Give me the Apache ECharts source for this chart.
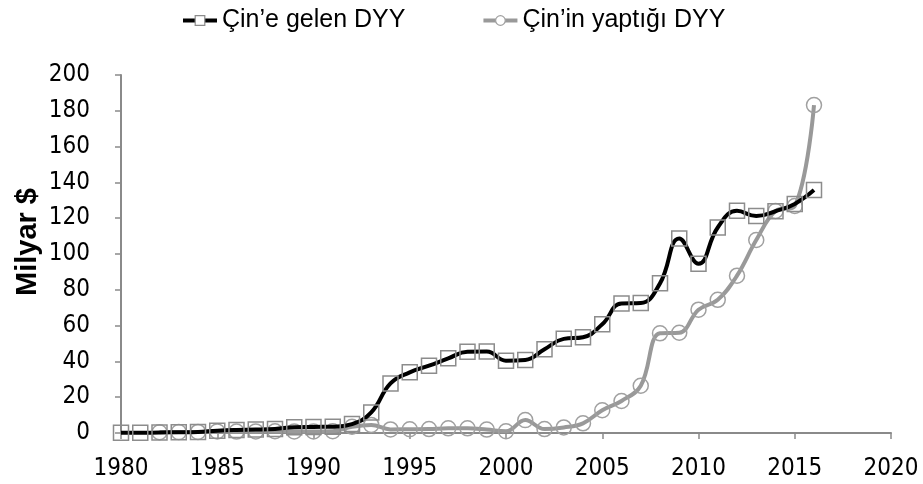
<!DOCTYPE html>
<html><head><meta charset="utf-8">
<script src="https://cdn.jsdelivr.net/npm/echarts@6/dist/echarts.min.js"></script>
<style>html,body{margin:0;padding:0;background:#fff}#c{width:923px;height:484px}</style>
</head><body><div id="c"></div>
<script>
const years = [1980,1981,1982,1983,1984,1985,1986,1987,1988,1989,1990,1991,1992,1993,1994,1995,1996,1997,1998,1999,2000,2001,2002,2003,2004,2005,2006,2007,2008,2009,2010,2011,2012,2013,2014,2015,2016];
const inflow = [0.1,0.1,0.3,0.4,0.6,1.3,1.7,1.9,2.3,3.2,3.4,3.5,5.0,11.5,27.7,33.9,37.6,41.7,45.4,45.5,40.4,40.8,46.8,52.6,53.5,60.7,72.4,72.6,83.6,108.6,94.5,114.8,124.1,121.2,123.9,128.0,135.7];
const outflow = [null,null,0.4,0.5,0.6,0.9,0.8,0.9,1.0,0.9,0.9,1.0,3.5,4.5,2.0,2.1,2.2,2.6,2.6,1.9,1.0,7.2,2.2,3.1,5.4,12.7,17.9,26.4,55.7,56.0,68.9,74.4,87.9,107.8,124.0,126.8,183.2];
const xTicks = [1980,1985,1990,1995,2000,2005,2010,2015,2020];
const seriesNames = ['Çin’e gelen DYY','Çin’in yaptığı DYY'];
const yTitle = 'Milyar $';

const numFont = 'DejaVu Sans Condensed';
const chart = echarts.init(document.getElementById('c'), null, {renderer:'canvas'});
chart.setOption({
  animation:false,
  backgroundColor:'#fff',
  legend:{
    top:3, left:176, itemGap:76, itemWidth:34, itemHeight:12,
    textStyle:{fontFamily:'Liberation Sans', fontSize:25, color:'#000'},
    data:[
      {name:seriesNames[0], lineStyle:{width:4, color:'#000'}, itemStyle:{color:'#fff', borderColor:'#8c8c8c', borderWidth:1.2}},
      {name:seriesNames[1], lineStyle:{width:4, color:'#999'}, itemStyle:{color:'#fff', borderColor:'#a0a0a0', borderWidth:1.2}}
    ]
  },
  graphic:[{
    type:'text', x:28, y:242, rotation:Math.PI/2,
    style:{text:yTitle, fontFamily:'Liberation Sans', fontWeight:'bold', fontSize:29, fill:'#000', align:'center', verticalAlign:'middle'}
  }],
  grid:{left:121, right:32, top:75, bottom:51, containLabel:false},
  xAxis:{
    type:'value', min:1980, max:2020, interval:5,
    axisLine:{show:true, lineStyle:{color:'#8a8a8a', width:2}},
    axisTick:{show:true, inside:false, length:6, lineStyle:{color:'#8a8a8a', width:1.5}},
    splitLine:{show:false},
    axisLabel:{fontFamily:numFont, fontSize:24, color:'#000', margin:24,
      formatter:v=> xTicks.includes(v) ? String(v) : ''}
  },
  yAxis:{
    type:'value', min:0, max:200, interval:20,
    axisLine:{show:true, lineStyle:{color:'#8a8a8a', width:2}},
    axisTick:{show:true, inside:false, length:6, lineStyle:{color:'#8a8a8a', width:1.5}},
    splitLine:{show:false},
    axisLabel:{fontFamily:numFont, fontSize:24, color:'#000', margin:31}
  },
  series:[
    {
      name:seriesNames[0], type:'line', smooth:0.45,
      data: years.map((y,i)=>[y, inflow[i]]),
      symbol:'rect', symbolSize:15,
      lineStyle:{color:'#000', width:4},
      itemStyle:{color:'rgba(255,255,255,0)', borderColor:'#8c8c8c', borderWidth:1.5},
      emphasis:{disabled:true}, z:3
    },
    {
      name:seriesNames[1], type:'line', smooth:0.4, connectNulls:false,
      data: years.map((y,i)=>[y, outflow[i]]),
      symbol:'circle', symbolSize:15,
      lineStyle:{color:'#999', width:4},
      itemStyle:{color:'rgba(255,255,255,0)', borderColor:'#a0a0a0', borderWidth:1.5},
      emphasis:{disabled:true}, z:2
    }
  ]
});
</script></body></html>
